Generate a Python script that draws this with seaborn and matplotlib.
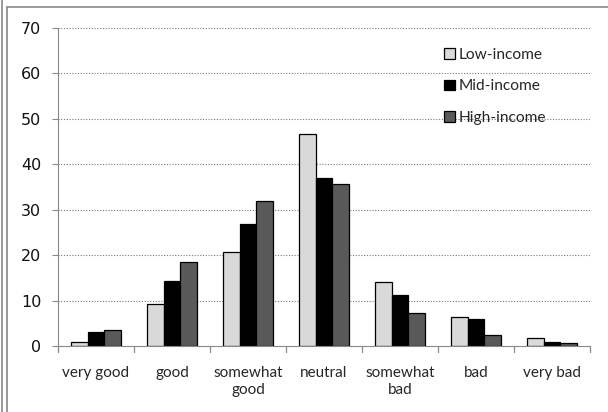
import pandas as pd
import seaborn as sns
import matplotlib.pyplot as plt
from matplotlib.lines import Line2D

# Veri
kategoriler = ["very good", "good", "somewhat\ngood", "neutral", "somewhat\nbad", "bad", "very bad"]
gruplar = ["Low-income", "Mid-income", "High-income"]
low_income = [1.0, 9.2, 20.6, 46.6, 14.0, 6.3, 1.7]
mid_income = [3.1, 14.3, 26.9, 36.9, 11.2, 5.9, 0.9]
high_income = [3.5, 18.4, 31.9, 35.6, 7.2, 2.4, 0.6]
y_ticks = [0, 10, 20, 30, 40, 50, 60, 70]
renkler = ["#D9D9D9", "#000000", "#595959"]

veri = pd.DataFrame({
    "kategori": kategoriler * 3,
    "grup": [g for g in gruplar for _ in kategoriler],
    "deger": low_income + mid_income + high_income,
})

sns.set_style("white")
plt.rcParams["font.family"] = ["Lato", "DejaVu Sans"]

fig = plt.figure(figsize=(6.08, 4.12), dpi=100)
ax = fig.add_axes([0.0954, 0.160, 0.875, 0.772])

sns.barplot(data=veri, x="kategori", y="deger", hue="grup", order=kategoriler,
            hue_order=gruplar, palette=renkler, width=0.66, edgecolor="black",
            linewidth=0.9, ax=ax, saturation=1)

ax.set_ylim(0, 70)
ax.set_xlim(-0.5, len(kategoriler) - 0.5)
ax.set_yticks(y_ticks)
ax.set_yticklabels([str(t) for t in y_ticks], fontsize=11.5, family="DejaVu Sans",
                   color="#111111")
ax.set_xlabel("")
ax.set_ylabel("")
ax.tick_params(axis="x", labelsize=11, length=0, pad=14)
ax.tick_params(axis="y", length=4, color="#888888", direction="out", left=True, pad=8)
for lbl in ax.get_xticklabels():
    lbl.set_linespacing(1.35)

# kategori sınırlarında aşağı doğru tik işaretleri
for sinir in range(len(kategoriler) + 1):
    ax.plot([sinir - 0.5, sinir - 0.5], [0, -1.2], color="#888888", lw=0.9, clip_on=False)

for y in y_ticks[1:]:
    ax.axhline(y, color="#777777", lw=0.8, ls=(0, (1, 1.5)), zorder=0)

for s in ["top", "right"]:
    ax.spines[s].set_visible(False)
ax.spines["left"].set_color("#888888")
ax.spines["bottom"].set_color("#888888")

leg = ax.legend(loc="upper left", bbox_to_anchor=(0.70, 0.98), frameon=False,
                fontsize=11.2, handlelength=0.7, handleheight=0.7, handletextpad=0.2,
                labelspacing=1.1)

# çerçeve çizgileri
fig.add_artist(Line2D([2 / 608, 2 / 608], [0, 1], color="#888888", lw=1.2))
fig.add_artist(Line2D([7 / 608, 7 / 608], [0, 1 - 7 / 412], color="#888888", lw=1.2))
fig.add_artist(Line2D([7 / 608, 1], [1 - 7 / 412, 1 - 7 / 412], color="#888888", lw=1.2))

fig.savefig("out.png", dpi=100)
